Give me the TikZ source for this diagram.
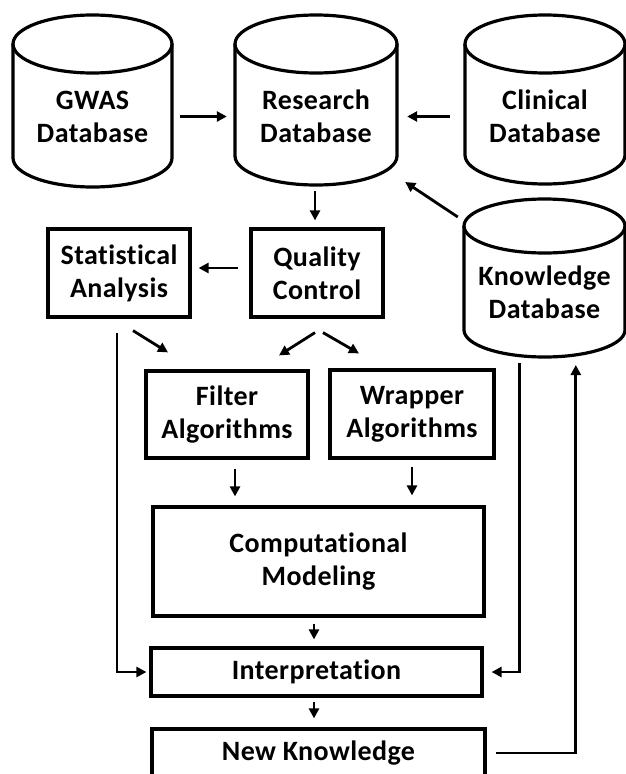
\documentclass[tikz,border=0pt]{standalone}
\usepackage{fontspec}
\setmainfont{Carlito}[Ligatures=NoCommon, LetterSpace=1.5]
\usetikzlibrary{arrows.meta,calc}
\begin{document}
\begin{tikzpicture}[x=1pt,y=-1pt,
  shapeline/.style={line width=3.2pt, line join=round},
  lbl/.style={font=\fontsize{28}{33}\selectfont\bfseries, align=center, inner sep=0pt},
  boxnode/.style={lbl, draw, line width=3.2pt},
  arr/.style={line width=2.8pt, -{Triangle[length=10pt,width=10pt]}},
  ln/.style={line width=2.8pt}]
\useasboundingbox (0,0) rectangle (626,774);
% cylinders drawn directly
\foreach \cx/\hw/\top/\ry/\bot in {92.5/79.5/15/29/187, 316/81/15/29/185, 545/80/15/29/184, 544.5/80.5/199/27/357}{
  \draw[shapeline] (\cx,\top+\ry) ellipse [x radius=\hw, y radius=\ry];
  \draw[shapeline] (\cx-\hw,\top+\ry) -- (\cx-\hw,\bot-\ry)
     arc[start angle=180, end angle=0, x radius=\hw, y radius=\ry] -- (\cx+\hw,\top+\ry);
}
% labels of the cylinders
\node[lbl, minimum width=159pt] (gwas) at (92.5,116.5) {GWAS\\Database};
\node[lbl, minimum width=162pt] (research) at (316,116.5) {Research\\Database};
\node[lbl, minimum width=160pt] (clinical) at (545,116.5) {Clinical\\Database};
\node[lbl, minimum width=161pt] (kdb) at (544.5,292) {Knowledge\\Database};
% boxes
\node[boxnode, minimum width=142pt, minimum height=88pt] (stat) at (119,273) {Statistical\\Analysis};
\node[boxnode, minimum width=132pt, minimum height=88pt] (qc) at (317,273) {Quality\\Control};
\node[boxnode, minimum width=162pt, minimum height=87pt] (filter) at (227,414.5) {Filter\\Algorithms};
\node[boxnode, minimum width=164pt, minimum height=88pt] (wrapper) at (412,414) {Wrapper\\Algorithms};
\node[boxnode, minimum width=331pt, minimum height=109pt] (cm) at (318.5,561.5) {Computational\\Modeling};
\node[boxnode, minimum width=331pt, minimum height=48pt] (interp) at (316.5,672) {Interpretation};
\node[boxnode, minimum width=333pt, minimum height=48pt] (nk) at (318.5,753) {New Knowledge};
% connectors
\draw[arr, shorten <=8pt, shorten >=8pt] (gwas.east) -- (research.west);
\draw[arr, shorten <=15pt, shorten >=10pt] (clinical.west) -- (research.east);
\draw[arr] ($(kdb.west)+(-6,-75)$) -- ($(research.east)+(8,65.5)$);
\draw[arr] ($(qc.north)+(-2,-36)$) -- ($(qc.north)+(-2,-7)$);
\draw[arr] ($(qc.west)+(-11,-5)$) -- ($(stat.east)+(7,-5)$);
\draw[arr] ($(stat.south)+(14,12)$) -- ($(filter.north)+(-59,-17)$);
\draw[arr] ($(qc.south)+(-2,14)$) -- ($(filter.north)+(52,-14)$);
\draw[arr] ($(qc.south)+(6,14)$) -- ($(wrapper.north)+(-53,-15)$);
\draw[arr] ($(filter.south)+(8,9)$) -- ($(cm.north)+(-83.5,-9)$);
\draw[arr] ($(wrapper.south)+(0,7)$) -- ($(cm.north)+(93.5,-10)$);
\draw[arr] ($(cm.south)+(-4.5,6)$) -- ($(interp.north)+(-2.5,-7)$);
\draw[arr] ($(interp.south)+(-2.5,4)$) -- ($(nk.north)+(-4.5,-9)$);
\draw[arr, shorten >=3pt] ($(stat.south)+(-2,14)$) |- (interp.west);
\draw[arr, shorten >=8pt] ($(kdb.west)+(56,71)$) |- (interp.east);
\draw[arr] ($(nk.east)+(9,0)$) -| ($(kdb.west)+(112,73)$);
\end{tikzpicture}
\end{document}
